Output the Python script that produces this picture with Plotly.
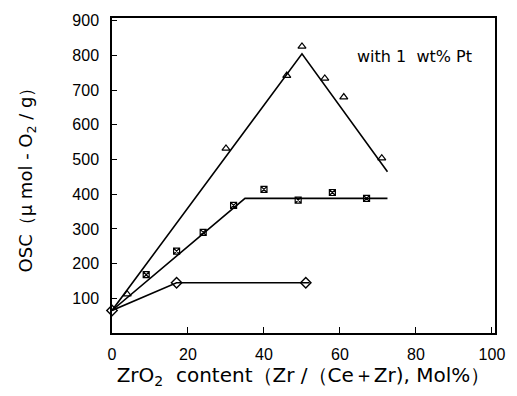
import plotly.graph_objects as go

# Measured points (ZrO2 mol%, OSC)
tri_x = [4, 30, 46, 50, 56, 61, 71]
tri_y = [112, 532, 742, 826, 734, 680, 504]
sq_x = [9, 17, 24, 32, 40, 49, 58, 67]
sq_y = [168, 236, 290, 368, 414, 383, 405, 388]
dia_x = [0, 17, 51]
dia_y = [65, 145, 145]

# Guide lines drawn through the data
tri_line_x = [0, 50, 72.5]
tri_line_y = [65, 805, 465]
sq_line_x = [0, 35, 72.5]
sq_line_y = [65, 388, 388]
dia_line_x = [0, 17, 52]
dia_line_y = [65, 145, 145]

x_ticks = [0, 20, 40, 60, 80, 100]
y_ticks = [100, 200, 300, 400, 500, 600, 700, 800, 900]

fig = go.Figure()
line_style = dict(color="black", width=1.6)
for lx, ly in [(tri_line_x, tri_line_y), (sq_line_x, sq_line_y), (dia_line_x, dia_line_y)]:
    fig.add_trace(go.Scatter(x=lx, y=ly, mode="lines", line=line_style,
                             showlegend=False, hoverinfo="skip", cliponaxis=False))

fig.add_trace(go.Scatter(x=tri_x, y=tri_y, mode="markers", showlegend=False,
                         marker=dict(symbol="triangle-up-open", size=7, color="black",
                                     line=dict(width=1.2))))
fig.add_trace(go.Scatter(x=sq_x, y=sq_y, mode="markers", showlegend=False,
                         marker=dict(symbol="square-x-open", size=6, color="black",
                                     line=dict(width=1.2))))
fig.add_trace(go.Scatter(x=dia_x, y=dia_y, mode="markers", showlegend=False,
                         marker=dict(symbol="diamond-open", size=8, color="black",
                                     line=dict(width=1.4)),
                         cliponaxis=False))

NB = "\u00a0"
wide_font = "DejaVu Sans, Liberation Sans, sans-serif"
fig.add_annotation(x=79.5, y=798, xref="x", yref="y",
                   text=f"with 1{NB}{NB}wt%{NB}Pt",
                   showarrow=False, font=dict(size=16, color="black", family=wide_font))

font_family = "Liberation Sans, Arial, sans-serif"
fig.update_layout(
    width=517, height=396,
    margin=dict(l=112, r=19, t=12, b=63),
    paper_bgcolor="white", plot_bgcolor="white",
    font=dict(family=font_family, color="black", size=16),
    xaxis=dict(range=[0, 100.8], tickvals=x_ticks, ticks="inside", ticklen=6,
               tickcolor="black", showline=True, linecolor="black", linewidth=1.5,
               mirror=True, showgrid=False, zeroline=False,
               ticklabelstandoff=6,
               title=dict(text=f"ZrO<sub>2</sub>{NB}{NB}content（Zr{NB}/（Ce＋Zr),{NB}Mol%）{NB}{NB}",
                          font=dict(size=20, family=wide_font), standoff=3)),
    yaxis=dict(range=[0, 908], tickvals=y_ticks, ticks="inside", ticklen=5,
               tickcolor="black", showline=True, linecolor="black", linewidth=1.5,
               mirror=True, showgrid=False, zeroline=False,
               ticklabelstandoff=8,
               title=dict(text=f"OSC（μ{NB}mol{NB}-{NB}O<sub>2</sub>{NB}/{NB}g）",
                          font=dict(size=18, family=wide_font), standoff=35)),
)

fig.write_html("out.html")
